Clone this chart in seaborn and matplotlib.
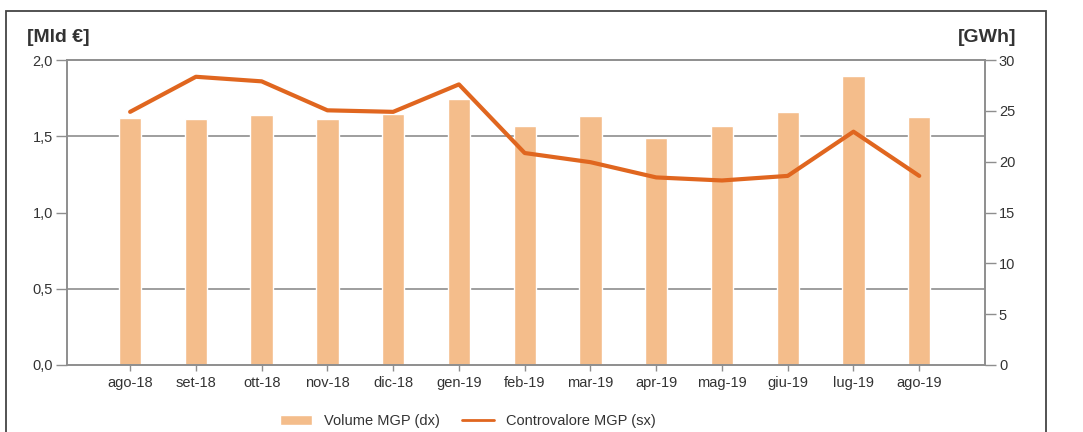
import matplotlib
matplotlib.use("Agg")
import matplotlib.pyplot as plt
import seaborn as sns
import pandas as pd
from matplotlib.patches import Rectangle
from matplotlib.ticker import FixedLocator, FuncFormatter

# data
months = ["ago-18", "set-18", "ott-18", "nov-18", "dic-18", "gen-19", "feb-19",
          "mar-19", "apr-19", "mag-19", "giu-19", "lug-19", "ago-19"]
volume_gwh = [24.3, 24.2, 24.6, 24.2, 24.7, 26.2, 23.5, 24.5, 22.3, 23.5, 24.9, 28.4, 24.4]
valore_mld = [1.66, 1.89, 1.86, 1.67, 1.66, 1.84, 1.39, 1.33, 1.23, 1.21, 1.24, 1.53, 1.24]

df = pd.DataFrame({"mese": months, "volume": volume_gwh, "valore": valore_mld})

sns.set_style("white")
plt.rcParams["font.family"] = ["Liberation Sans", "DejaVu Sans"]

bar_color = "#F4BD8B"
line_color = "#E0661F"
grid_color = "#8E8E8E"
text_color = "#333333"

fig = plt.figure(figsize=(10.83, 4.32), dpi=100)
ax = fig.add_axes([67 / 1083, 67 / 432, 918 / 1083, 305 / 432])
axr = ax.twinx()

# bars on the right axis (GWh), line on the left axis (Mld €)
sns.barplot(data=df, x="mese", y="volume", ax=axr, color=bar_color,
            saturation=1, width=0.34, label="Volume MGP (dx)")
sns.lineplot(data=df, x="mese", y="valore", ax=ax, color=line_color,
             linewidth=3, label="Controvalore MGP (sx)")

ax.set_zorder(axr.get_zorder() + 1)
ax.patch.set_visible(False)

ax.set_ylim(0, 2.0)
axr.set_ylim(0, 30)
ax.set_xlim(-0.96, 13.0)

ax.set_yticks([0, 0.5, 1.0, 1.5, 2.0])
ax.yaxis.set_major_formatter(FuncFormatter(lambda v, p: f"{v:.1f}".replace(".", ",")))
axr.set_yticks([0, 5, 10, 15, 20, 25, 30])

# horizontal grid behind the bars, aligned with the left ticks
axr.yaxis.set_minor_locator(FixedLocator([7.5, 15, 22.5]))
axr.grid(True, which="minor", axis="y", color=grid_color, linewidth=1.2)
axr.grid(False, which="major")
axr.set_axisbelow(True)
axr.tick_params(which="minor", length=0)

for a in (ax, axr):
    a.set_xlabel("")
    a.set_ylabel("")
    for s in a.spines.values():
        s.set_color(grid_color)
        s.set_linewidth(1.2)

ax.tick_params(axis="y", which="major", direction="out", length=8, width=1,
               color=grid_color, labelsize=10.5, labelcolor=text_color, pad=2, left=True)
axr.tick_params(axis="y", which="major", direction="out", length=8, width=1,
                color=grid_color, labelsize=10.5, labelcolor=text_color, pad=2, right=True)
ax.tick_params(axis="x", direction="out", length=4, width=1, color=grid_color,
               labelsize=10.5, labelcolor=text_color, pad=4, bottom=True)
ax.set_xticks(range(len(months)))
ax.set_xticklabels(months)
axr.grid(True, which="minor", axis="y", color=grid_color, linewidth=1.2)

fig.text(27 / 1083, 1 - 38 / 432, "[Mld €]", fontsize=14, fontweight="bold",
         color=text_color, ha="left", va="center")
fig.text(1016 / 1083, 1 - 38 / 432, "[GWh]", fontsize=14, fontweight="bold",
         color=text_color, ha="right", va="center")

# legend at the bottom
if ax.get_legend():
    ax.get_legend().remove()
if axr.get_legend():
    axr.get_legend().remove()
h1, l1 = axr.get_legend_handles_labels()
h2, l2 = ax.get_legend_handles_labels()
leg = fig.legend(h1 + h2, l1 + l2, loc="center", bbox_to_anchor=(0.432, 0.026), ncol=2,
                 frameon=False, fontsize=10.5, handlelength=2.2, columnspacing=1.5,
                 labelcolor=text_color)
leg.get_lines()[0].set_linewidth(2)

# outer frame
fig.add_artist(Rectangle((6 / 1083, -0.1), 1040 / 1083, (432 - 11) / 432 + 0.1,
                         transform=fig.transFigure, fill=False, ec="#444444", lw=1.3))

fig.savefig("out.png", dpi=100)
